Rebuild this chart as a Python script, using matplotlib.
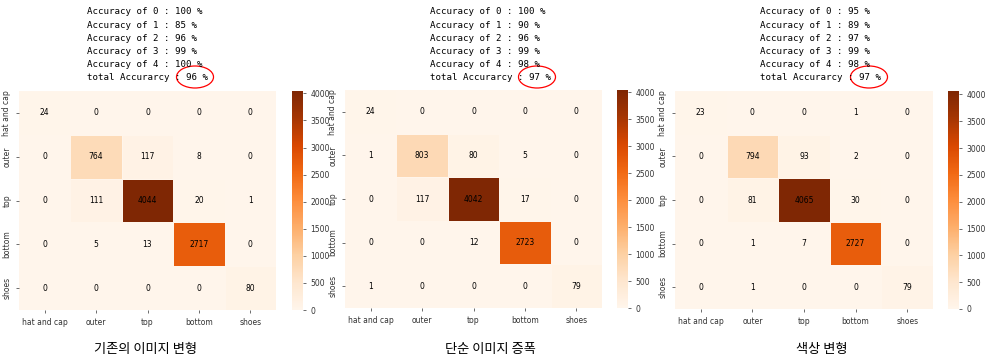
import numpy as np
import matplotlib
matplotlib.use("Agg")
import matplotlib.pyplot as plt
import seaborn as sns
from matplotlib.patches import Ellipse

labels = ['hat and cap', 'outer', 'top', 'bottom', 'shoes']

cm_base = [[24, 0, 0, 0, 0],
           [0, 764, 117, 8, 0],
           [0, 111, 4044, 20, 1],
           [0, 5, 13, 2717, 0],
           [0, 0, 0, 0, 80]]
cm_dup = [[24, 0, 0, 0, 0],
          [1, 803, 80, 5, 0],
          [0, 117, 4042, 17, 0],
          [0, 0, 12, 2723, 0],
          [1, 0, 0, 0, 79]]
cm_color = [[23, 0, 0, 1, 0],
            [0, 794, 93, 2, 0],
            [0, 81, 4065, 30, 0],
            [0, 1, 7, 2727, 0],
            [0, 1, 0, 0, 79]]

acc_base = [100, 85, 96, 99, 100]
acc_dup = [100, 90, 96, 99, 98]
acc_color = [95, 89, 97, 99, 98]
total_acc = [96, 97, 97]

captions = ['기존의 이미지 변형', '단순 이미지 증폭', '색상 변형']

W, H = 990, 363
fig = plt.figure(figsize=(W / 100, H / 100), dpi=100)

# pixel layout: (heatmap left, top, right, bottom), colorbar left, text x, ellipse centre x, caption x
panels = [
    (cm_base, acc_base, (19, 91, 276, 310), 292, 87, 195, 145),
    (cm_dup, acc_dup, (345, 90, 602, 308), 617, 430, 537, 490),
    (cm_color, acc_color, (675, 91, 933, 309), 948, 760, 869, 822),
]

def px(x, y):
    return x / W, 1 - y / H

for i, (cm, acc, box, cb_left, tx, ex, capx) in enumerate(panels):
    l, t, r, b = box
    ax = fig.add_axes([l / W, 1 - b / H, (r - l) / W, (b - t) / H])
    cax = fig.add_axes([cb_left / W, 1 - b / H, 11 / W, (b - t) / H])
    sns.heatmap(np.array(cm), annot=True, fmt='d', cmap='Oranges', ax=ax, cbar_ax=cax,
                linewidths=0.5, linecolor='#fff5eb',
                xticklabels=labels, yticklabels=labels,
                annot_kws={'fontsize': 5.5, 'color': None})
    ax.tick_params(labelsize=5.5, length=2, width=0.5, colors='#333333')
    ax.set_xticklabels(labels, rotation=0)
    ax.set_yticklabels(labels, rotation=90, va='center')
    cax.tick_params(labelsize=5.5, length=2, width=0.5, colors='#333333')
    cax.set_yticks(range(0, 4001, 500))

    lines = ['Accuracy of %d : %d %%' % (k, a) for k, a in enumerate(acc)]
    lines.append('total Accurarcy : %d %%' % total_acc[i])
    for k, line in enumerate(lines):
        x, y = px(tx, 12 + k * 13.2)
        fig.text(x, y, line, fontsize=6.6, family='DejaVu Sans Mono',
                 va='center', ha='left', color='black')

    ecx, ecy = px(ex, 77)
    fig.patches.append(Ellipse((ecx, ecy), 37 / W, 22 / H, transform=fig.transFigure,
                               fill=False, edgecolor='red', linewidth=0.9))

    cx, cy = px(capx, 350)
    fig.text(cx, cy, captions[i], fontsize=9.5, family=['Noto Sans CJK KR', 'DejaVu Sans'],
             ha='center', va='center', color='black')

fig.savefig('out.png', dpi=100)
